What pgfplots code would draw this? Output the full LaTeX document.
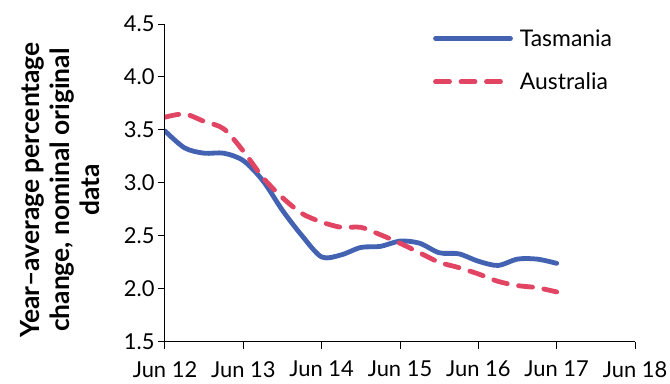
\documentclass[border=0pt]{standalone}
\usepackage{pgfplots}
\pgfplotsset{compat=1.18}
\usepackage{fontspec}
\setmainfont{Lato}
\definecolor{tasblue}{RGB}{68,98,178}
\definecolor{ausred}{RGB}{226,68,100}
\pgfplotstableread{
x tas aus
0.00 3.49 3.62
0.25 3.33 3.65
0.50 3.28 3.58
0.75 3.28 3.51
1.00 3.21 3.30
1.25 3.02 3.05
1.50 2.74 2.86
1.75 2.50 2.71
2.00 2.30 2.63
2.25 2.32 2.58
2.50 2.39 2.58
2.75 2.40 2.51
3.00 2.45 2.43
3.25 2.43 2.34
3.50 2.34 2.25
3.75 2.33 2.20
4.00 2.26 2.14
4.25 2.22 2.07
4.50 2.28 2.03
4.75 2.28 2.01
5.00 2.24 1.97
}\data
\begin{document}
\begin{tikzpicture}
\begin{axis}[
  name=ax,
  scale only axis,
  width=470bp, height=317.7bp,
  xmin=0, xmax=6, ymin=1.5, ymax=4.5,
  axis lines=left,
  axis line style={-, line width=1bp},
  xtick={0,1,2,3,4,5,6},
  xticklabels={Jun 12,Jun 13,Jun 14,Jun 15,Jun 16,Jun 17,Jun 18},
  ytick={1.5,2,2.5,3,3.5,4,4.5},
  yticklabel style={/pgf/number format/.cd,fixed,fixed zerofill,precision=1,assume math mode=true},
  xticklabel style={yshift=-9bp},
  tick align=outside,
  major tick length=7bp,
  tick style={line width=1bp, black},
  ticklabel style={font=\fontsize{22}{26}\selectfont},
  ylabel={Year–average percentage\\change, nominal original\\data},
  ylabel style={align=center, font=\bfseries\fontsize{26.5}{30}\selectfont, at={(axis description cs:-0.223,0.477)}, anchor=center},
  legend style={draw=none, fill=none, at={(axis description cs:0.57,0.99)}, anchor=north west, inner sep=0pt, font=\fontsize{23}{27}\selectfont, row sep=21bp},
  legend cell align=left,
  legend image code/.code={\draw[#1] (0bp,0bp) -- (75bp,0bp); \path (80bp,0bp);},
]
\addplot[tasblue, line width=4.8bp, smooth, tension=0.5, line cap=round] table[x=x,y=tas] {\data};
\addlegendentry{Tasmania}
\addplot[ausred, line width=4.8bp, smooth, tension=0.5, dash pattern=on 14bp off 11.5bp, line cap=round] table[x=x,y=aus] {\data};
\addlegendentry{Australia}
\end{axis}
\pgfresetboundingbox
\path[use as bounding box] ([shift={(-165bp,-42.3bp)}]ax.south west) rectangle ([shift={(35bp,24bp)}]ax.north east);
\end{tikzpicture}
\end{document}
